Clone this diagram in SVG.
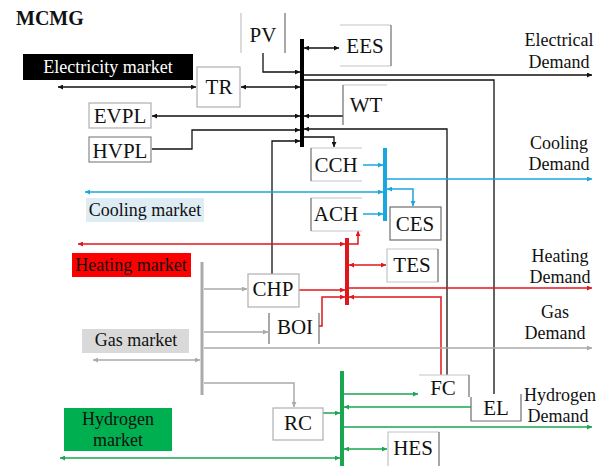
<svg xmlns="http://www.w3.org/2000/svg" width="603" height="466" viewBox="0 0 603 466">
<defs>
<marker id="ak" viewBox="0 0 10 10" refX="10" refY="5" markerWidth="7" markerHeight="5" markerUnits="userSpaceOnUse" orient="auto-start-reverse"><path d="M0,0 L10,5 L0,10 z" fill="#111"/></marker>
<marker id="ab" viewBox="0 0 10 10" refX="10" refY="5" markerWidth="7" markerHeight="5" markerUnits="userSpaceOnUse" orient="auto-start-reverse"><path d="M0,0 L10,5 L0,10 z" fill="#1aa7e0"/></marker>
<marker id="ar" viewBox="0 0 10 10" refX="10" refY="5" markerWidth="7" markerHeight="5" markerUnits="userSpaceOnUse" orient="auto-start-reverse"><path d="M0,0 L10,5 L0,10 z" fill="#e0161d"/></marker>
<marker id="ag" viewBox="0 0 10 10" refX="10" refY="5" markerWidth="7" markerHeight="5" markerUnits="userSpaceOnUse" orient="auto-start-reverse"><path d="M0,0 L10,5 L0,10 z" fill="#1aa550"/></marker>
<marker id="ay" viewBox="0 0 10 10" refX="10" refY="5" markerWidth="7" markerHeight="5" markerUnits="userSpaceOnUse" orient="auto-start-reverse"><path d="M0,0 L10,5 L0,10 z" fill="#aaa"/></marker>
</defs>
<style>
text{font-family:"Liberation Serif","Times New Roman",serif;fill:#111}
.lbl{font-size:21px;text-anchor:middle}
.mk{font-size:18px;text-anchor:middle}
.dm{font-size:18px;text-anchor:middle}
.lt{fill:none;stroke:#c4c4c4;stroke-width:1.2}
.dk{fill:none;stroke:#6e6e6e;stroke-width:1.2}
.box{fill:#fff;stroke:#b0b0b0;stroke-width:1.2}
.k{fill:none;stroke:#111;stroke-width:1.3}
.b{fill:none;stroke:#1aa7e0;stroke-width:1.5}
.r{fill:none;stroke:#e0161d;stroke-width:1.5}
.g{fill:none;stroke:#1aa550;stroke-width:1.5}
.y{fill:none;stroke:#aaa;stroke-width:1.5}
.kk{marker-end:url(#ak)}.kk2{marker-start:url(#ak);marker-end:url(#ak)}
.bb{marker-end:url(#ab)}.bb2{marker-start:url(#ab);marker-end:url(#ab)}
.rr{marker-end:url(#ar)}.rr2{marker-start:url(#ar);marker-end:url(#ar)}
.gg{marker-end:url(#ag)}.gg2{marker-start:url(#ag);marker-end:url(#ag)}
.yy{marker-end:url(#ay)}.yy2{marker-start:url(#ay);marker-end:url(#ay)}
</style>
<rect width="603" height="466" fill="#fff"/>
<text x="16" y="25" style="font-size:20px;font-weight:bold">MCMG</text>

<g id="connectors">
<path class="k kk2" d="M58,87 H196"/>
<path class="k kk2" d="M241,87 H300"/>
<path class="k kk" d="M263,53 V72 H300"/>
<path class="k kk2" d="M304,48 H339"/>
<path class="k kk" d="M304,75 H592"/>
<path class="k" d="M304,80 H494 V394"/>
<path class="k kk2" d="M152,116 H300"/>
<path class="k kk" d="M343,116 H304"/>
<path class="k kk" d="M152,149 H192 V130 H300"/>
<path class="k kk" d="M447,375 V129 H304"/>
<path class="k kk" d="M272,274 V141 H300"/>
<path class="k kk" d="M304,137 H334 V147"/>
<path class="b bb" d="M363,165 H383"/>
<path class="b bb" d="M387,179 H592"/>
<path class="b bb2" d="M85,192 H383"/>
<path class="b bb2" d="M387,189 H413 V206"/>
<path class="b bb" d="M363,214 H383"/>
<path class="r rr2" d="M78,244 H345"/>
<path class="r rr" d="M349,244 H358 V231"/>
<path class="r rr2" d="M349,265 H386"/>
<path class="r rr" d="M299,290 H345"/>
<path class="r rr" d="M349,288 H592"/>
<path class="r rr" d="M319,326 H322 V297 H345"/>
<path class="r rr" d="M441,375 V297 H349"/>
<path class="y yy" d="M204,289 H247"/>
<path class="y yy" d="M204,332 H268"/>
<path class="y yy" d="M204,348 H592"/>
<path class="y yy2" d="M93,360 H200"/>
<path class="y yy" d="M204,383 H294 V407"/>
<path class="g gg" d="M344,394 H418"/>
<path class="g gg" d="M471,407 H344"/>
<path class="g gg" d="M323,413 H340"/>
<path class="g gg" d="M344,427 H592"/>
<path class="g gg2" d="M344,449 H387"/>
<path class="g gg2" d="M60,458 H340"/>
</g>

<g id="buses">
<line id="bus-e" x1="302" y1="39" x2="302" y2="147" stroke="#000" stroke-width="4"/>
<line id="bus-c" x1="385" y1="148" x2="385" y2="221" stroke="#1aa7e0" stroke-width="4"/>
<line id="bus-h" x1="347" y1="238" x2="347" y2="305" stroke="#e0161d" stroke-width="4"/>
<line id="bus-g" x1="202" y1="262" x2="202" y2="395" stroke="#aaa" stroke-width="3"/>
<line id="bus-h2" x1="342" y1="371" x2="342" y2="466" stroke="#1aa550" stroke-width="4"/>
</g>

<g id="electricity-market"><rect x="23" y="54" width="170" height="26" fill="#000"/><text class="mk" x="108" y="73" style="fill:#fff">Electricity market</text></g>
<g id="cooling-market"><rect x="86" y="198" width="118" height="24" fill="#deecf4"/><text class="mk" x="145" y="216">Cooling market</text></g>
<g id="heating-market"><rect x="72" y="253" width="119" height="24" fill="#ff0000"/><text class="mk" x="131" y="271">Heating market</text></g>
<g id="gas-market"><rect x="82" y="329" width="107" height="24" fill="#d9d9d9"/><text class="mk" x="136" y="346">Gas market</text></g>
<g id="hydrogen-market"><rect x="64" y="408" width="108" height="43" fill="#00b050"/><text class="mk" x="118" y="425">Hydrogen</text><text class="mk" x="118" y="446">market</text></g>

<g id="PV"><path class="lt" d="M241,13 V53"/><path class="dk" d="M285,13 V53"/><text class="lbl" x="263" y="42">PV</text></g>
<g id="EES"><path class="lt" d="M340,25 H391 M340,66 H391"/><path class="dk" d="M391,25 V66"/><text class="lbl" x="365" y="53">EES</text></g>
<g id="TR"><rect class="box" x="197" y="67" width="43" height="40"/><text class="lbl" x="219" y="94">TR</text></g>
<g id="EVPL"><rect class="box" x="89" y="103" width="62" height="25"/><text class="lbl" x="120" y="123">EVPL</text></g>
<g id="HVPL"><rect class="box" x="89" y="137" width="62" height="25" style="stroke:#888"/><text class="lbl" x="120" y="158">HVPL</text></g>
<g id="WT"><path class="lt" d="M343,85 H387"/><path class="dk" d="M343,85 V125"/><text class="lbl" x="366" y="112">WT</text></g>
<g id="CCH"><path class="lt" d="M311,148 H362 M311,181 H362"/><path class="dk" d="M311,148 V181"/><text class="lbl" x="336" y="172">CCH</text></g>
<g id="ACH"><path class="lt" d="M311,198 H362 M311,231 H362"/><path class="dk" d="M311,198 V231"/><text class="lbl" x="336" y="221">ACH</text></g>
<g id="CES"><rect x="390" y="207" width="51" height="33" fill="#fff" stroke="#6e6e6e" stroke-width="1.2"/><text class="lbl" x="415" y="231">CES</text></g>
<g id="TES"><path class="lt" d="M438,249 H387 V282 H438"/><path class="dk" d="M438,249 V282"/><text class="lbl" x="412" y="272">TES</text></g>
<g id="CHP"><rect class="box" x="248" y="274" width="51" height="33"/><text class="lbl" x="273" y="296">CHP</text></g>
<g id="BOI"><path class="dk" d="M269,313 V344 M319,313 V344"/><text class="lbl" x="295" y="334">BOI</text></g>
<g id="FC"><path class="lt" d="M419,375 H469"/><path class="dk" d="M469,375 V397"/><text class="lbl" x="443" y="395">FC</text></g>
<g id="EL"><path class="dk" d="M471,397 V421 H521 V394"/><text class="lbl" x="496" y="415">EL</text></g>
<g id="RC"><rect class="box" x="273" y="408" width="50" height="32"/><text class="lbl" x="298" y="430">RC</text></g>
<g id="HES"><path class="lt" d="M388,466 V432 H439"/><path class="dk" d="M439,432 V466"/><text class="lbl" x="413" y="455">HES</text></g>

<g id="demands">
<text class="dm" x="559" y="46">Electrical</text><text class="dm" x="559" y="68">Demand</text>
<text class="dm" x="559" y="149">Cooling</text><text class="dm" x="559" y="170">Demand</text>
<text class="dm" x="560" y="262">Heating</text><text class="dm" x="560" y="283">Demand</text>
<text class="dm" x="555" y="318">Gas</text><text class="dm" x="555" y="339">Demand</text>
<text class="dm" x="560" y="401">Hydrogen</text><text class="dm" x="558" y="422">Demand</text>
</g>
</svg>
